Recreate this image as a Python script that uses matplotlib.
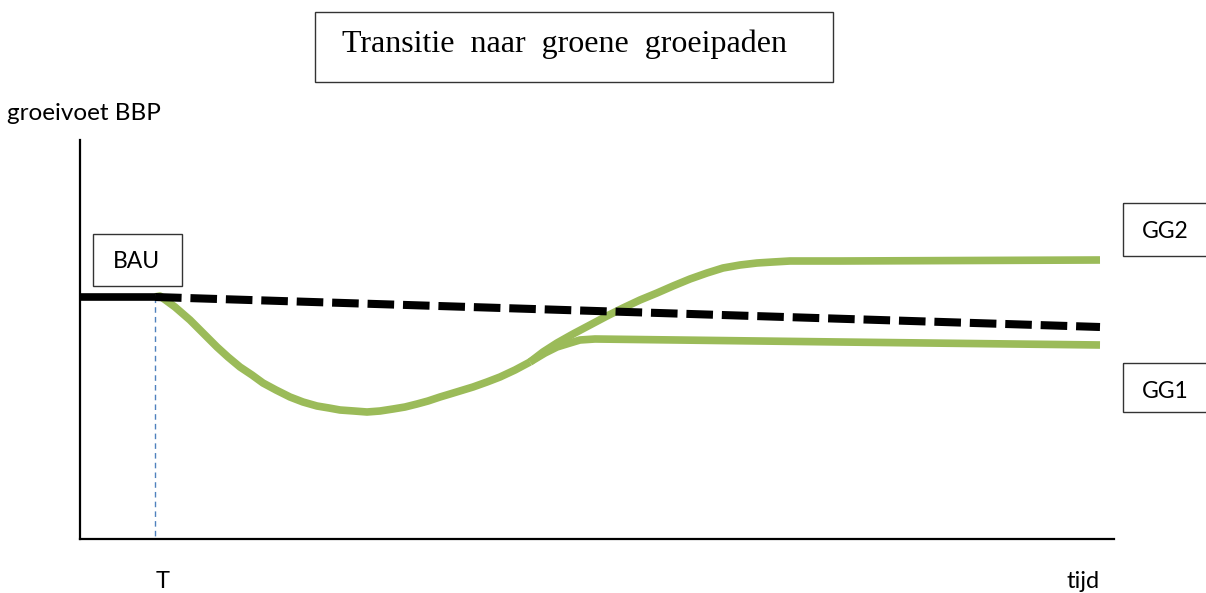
import matplotlib
matplotlib.use("Agg")
import matplotlib.pyplot as plt
from matplotlib.patches import Rectangle

# values: x = time (px from y-axis), y = growth (px above x-axis)
W, H = 1206, 593
X0, Y0 = 80, 539          # axis origin in the picture

bau_x = [80, 155]
bau_y = [297, 297]
trend_x = [155, 1100]
trend_y = [297, 327]
dip_x = [155, 160, 175, 190, 203, 217, 228, 240, 252, 263, 276, 290, 303, 317, 329,
         340, 354, 367, 380, 393, 405, 417, 428, 440, 450, 473, 487, 500, 515, 530]
dip_y = [297, 296, 307, 320, 333, 347, 357, 367, 375, 383, 390, 397, 402, 406, 408,
         410, 411, 412, 411, 409, 407, 404, 401, 397, 394, 387, 382, 377, 370, 362]
gg2_x = [530, 543, 557, 573, 590, 607, 623, 640, 657, 673, 690, 707, 723, 740, 757, 773, 790, 840, 1100]
gg2_y = [362, 352, 343, 334, 325, 316, 308, 300, 293, 286, 279, 273, 268, 265, 263, 262, 261, 261, 260]
gg1_x = [530, 545, 557, 570, 580, 595, 840, 1100]
gg1_y = [362, 353, 347, 343, 340, 339, 342, 345]
t_mark = 155


def tx(v):
    return [a - X0 for a in v]


def ty(v):
    return [Y0 - a for a in v]


green = "#9bbb59"
fig = plt.figure(figsize=(W / 100, H / 100), dpi=100)

ax = fig.add_axes([X0 / W, (H - Y0) / H, (1114 - X0) / W, (Y0 - 140) / H])
ax.set_xlim(0, 1114 - X0)
ax.set_ylim(0, Y0 - 140)
for s in ["top", "right"]:
    ax.spines[s].set_visible(False)
for s in ["left", "bottom"]:
    ax.spines[s].set_linewidth(1.6)
ax.set_xticks([])
ax.set_yticks([])

ax.plot(tx([t_mark, t_mark]), ty([297, Y0]), color="#4f81bd", lw=1.0, ls=(0, (4, 3)))
for xs, ys in [(dip_x, dip_y), (gg2_x, gg2_y), (gg1_x, gg1_y)]:
    ax.plot(tx(xs), ty(ys), color=green, lw=5.5, solid_joinstyle="round", solid_capstyle="butt")
ax.plot(tx(bau_x), ty(bau_y), color="black", lw=5.5, solid_capstyle="butt")
ax.plot(tx(trend_x), ty(trend_y), color="black", lw=5.8, dash_capstyle="butt",
        ls=(0, (3.3, 1.1)))

# overlay in picture pixels for boxes and labels
ov = fig.add_axes([0, 0, 1, 1], facecolor="none")
ov.set_xlim(0, W)
ov.set_ylim(H, 0)
ov.axis("off")

sans = "Lato"
ov.add_patch(Rectangle((315, 12), 518, 70, fill=False, ec="#333333", lw=1.0))
ov.text(564, 44, "Transitie  naar  groene  groeipaden", family="Liberation Serif",
        fontsize=23, ha="center", va="center")

ov.add_patch(Rectangle((93, 234), 89, 52, fill=False, ec="#333333", lw=1.0))
ov.text(136, 262, "BAU", family=sans, fontsize=16.5, ha="center", va="center")

ov.add_patch(Rectangle((1123, 203), 90, 53, fill=False, ec="#333333", lw=1.0))
ov.text(1165, 231, "GG2", family=sans, fontsize=16.5, ha="center", va="center")
ov.add_patch(Rectangle((1123, 363), 90, 49, fill=False, ec="#333333", lw=1.0))
ov.text(1165, 392, "GG1", family=sans, fontsize=16.5, ha="center", va="center")

ov.text(7, 113, "groeivoet BBP", family=sans, fontsize=17.5, ha="left", va="center")
ov.text(163, 582, "T", family=sans, fontsize=17, ha="center", va="center")
ov.text(1083, 582, "tijd", family=sans, fontsize=17, ha="center", va="center")

fig.savefig("out.png", dpi=100)
